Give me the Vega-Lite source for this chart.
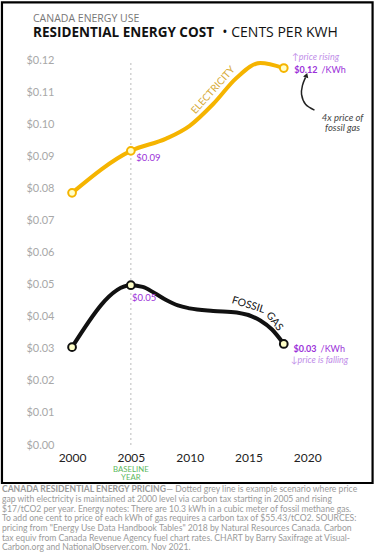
{
  "$schema": "https://vega.github.io/schema/vega-lite/v6.json",
  "width": 247,
  "height": 401,
  "autosize": {"type": "none"},
  "padding": {"left": 65, "top": 44, "right": 63, "bottom": 108},
  "background": "white",
  "config": {"view": {"stroke": null}, "font": "Lato"},
  "data": {"values": [{}]},
  "datasets": {
    "prices": [
      {"series": "Electricity", "year": 2000, "price": 0.0786},
      {"series": "Electricity", "year": 2005, "price": 0.0917},
      {"series": "Electricity", "year": 2008, "price": 0.0955},
      {"series": "Electricity", "year": 2010, "price": 0.0995},
      {"series": "Electricity", "year": 2012, "price": 0.1063},
      {"series": "Electricity", "year": 2014, "price": 0.1145},
      {"series": "Electricity", "year": 2016, "price": 0.1191},
      {"series": "Electricity", "year": 2018, "price": 0.1175},
      {"series": "Fossil gas", "year": 2000, "price": 0.0305},
      {"series": "Fossil gas", "year": 2005, "price": 0.0498},
      {"series": "Fossil gas", "year": 2006, "price": 0.0493},
      {"series": "Fossil gas", "year": 2007, "price": 0.0474},
      {"series": "Fossil gas", "year": 2008, "price": 0.0452},
      {"series": "Fossil gas", "year": 2009, "price": 0.0435},
      {"series": "Fossil gas", "year": 2010, "price": 0.0426},
      {"series": "Fossil gas", "year": 2012, "price": 0.0418},
      {"series": "Fossil gas", "year": 2014, "price": 0.0413},
      {"series": "Fossil gas", "year": 2016, "price": 0.0388},
      {"series": "Fossil gas", "year": 2017, "price": 0.0360},
      {"series": "Fossil gas", "year": 2018, "price": 0.0315}
    ],
    "arrow": [
      {"step": 1, "year": 2020.61, "price": 0.1044},
      {"step": 2, "year": 2019.85, "price": 0.1062},
      {"step": 3, "year": 2019.51, "price": 0.1093},
      {"step": 4, "year": 2019.59, "price": 0.1121},
      {"step": 5, "year": 2019.85, "price": 0.1146}
    ]
  },
  "encoding": {
    "x": {
      "type": "quantitative",
      "scale": {"domain": [1999.4, 2020.4], "nice": false, "zero": false},
      "axis": {
        "title": null,
        "values": [2000, 2005, 2010, 2015, 2020],
        "format": "d",
        "grid": false,
        "ticks": false,
        "domain": false,
        "labelFont": "Lato",
        "labelFontSize": 12,
        "labelColor": "#222222",
        "labelPadding": 7
      }
    },
    "y": {
      "type": "quantitative",
      "scale": {"domain": [0, 0.125], "nice": false, "zero": true},
      "axis": {
        "title": null,
        "values": [0, 0.01, 0.02, 0.03, 0.04, 0.05, 0.06, 0.07, 0.08, 0.09, 0.1, 0.11, 0.12],
        "format": "$.2f",
        "ticks": false,
        "domain": false,
        "gridColor": "#e6e6e6",
        "labelFont": "Lato",
        "labelFontSize": 11,
        "labelColor": "#a8a8a8",
        "labelPadding": 11
      }
    }
  },
  "layer": [
    {
      "mark": {"type": "rect", "fill": null, "stroke": "#000000", "strokeWidth": 2.2},
      "encoding": {
        "x": {"datum": 1994.04},
        "x2": {"datum": 2025.55},
        "y": {"datum": 0.1380},
        "y2": {"datum": -0.01184}
      }
    },
    {
      "mark": {"type": "rule", "color": "#bbbbbb", "strokeWidth": 1, "strokeDash": [2, 3]},
      "encoding": {
        "x": {"datum": 2005},
        "y": {"datum": 0},
        "y2": {"datum": 0.12}
      }
    },
    {
      "data": {"name": "prices"},
      "mark": {"type": "line", "interpolate": "monotone", "strokeWidth": 4, "strokeCap": "round"},
      "encoding": {
        "x": {"field": "year"},
        "y": {"field": "price"},
        "color": {
          "field": "series",
          "type": "nominal",
          "scale": {"domain": ["Electricity", "Fossil gas"], "range": ["#f5b400", "#111111"]},
          "legend": null
        }
      }
    },
    {
      "data": {"name": "prices"},
      "transform": [{"filter": {"field": "year", "oneOf": [2000, 2005, 2018]}}],
      "mark": {"type": "circle", "fill": "#ffffc8", "fillOpacity": 1, "strokeWidth": 2, "size": 60},
      "encoding": {
        "x": {"field": "year"},
        "y": {"field": "price"},
        "stroke": {
          "field": "series",
          "type": "nominal",
          "scale": {"domain": ["Electricity", "Fossil gas"], "range": ["#f5b400", "#111111"]},
          "legend": null
        }
      }
    },
    {
      "data": {"name": "arrow"},
      "mark": {"type": "line", "interpolate": "cardinal", "color": "#222222", "strokeWidth": 1.5},
      "encoding": {
        "x": {"field": "year"},
        "y": {"field": "price"},
        "order": {"field": "step", "type": "quantitative"}
      }
    },
    {
      "mark": {"type": "point", "shape": "triangle-up", "filled": true, "color": "#222222", "size": 30, "angle": 20, "opacity": 1},
      "encoding": {"x": {"datum": 2019.93}, "y": {"datum": 0.1153}}
    },
    {
      "mark": {"type": "text", "text": "CANADA ENERGY USE", "align": "left", "baseline": "middle", "font": "Open Sans", "fontSize": 10.5, "color": "#777777"},
      "encoding": {"x": {"datum": 1996.68}, "y": {"datum": 0.1329}}
    },
    {
      "mark": {"type": "text", "text": "RESIDENTIAL ENERGY COST", "align": "left", "baseline": "middle", "font": "Open Sans", "fontSize": 13.5, "fontWeight": "bold", "color": "#111111"},
      "encoding": {"x": {"datum": 1996.68}, "y": {"datum": 0.1283}}
    },
    {
      "mark": {"type": "text", "text": "•  CENTS PER KWH", "align": "left", "baseline": "middle", "font": "Open Sans", "fontSize": 14, "color": "#111111"},
      "encoding": {"x": {"datum": 2012.78}, "y": {"datum": 0.1283}}
    },
    {
      "mark": {"type": "text", "text": "$0.09", "align": "left", "baseline": "middle", "fontSize": 9.5, "color": "#9b30d9"},
      "encoding": {"x": {"datum": 2005.45}, "y": {"datum": 0.0894}}
    },
    {
      "mark": {"type": "text", "text": "$0.05", "align": "left", "baseline": "middle", "fontSize": 9.5, "color": "#9b30d9"},
      "encoding": {"x": {"datum": 2005.1}, "y": {"datum": 0.0458}}
    },
    {
      "mark": {"type": "text", "text": "$0.12", "align": "left", "baseline": "middle", "fontSize": 9, "fontWeight": "bold", "color": "#9b30d9"},
      "encoding": {"x": {"datum": 2018.9}, "y": {"datum": 0.1168}}
    },
    {
      "mark": {"type": "text", "text": "/KWh", "align": "left", "baseline": "middle", "fontSize": 9, "color": "#9b30d9"},
      "encoding": {"x": {"datum": 2021.2}, "y": {"datum": 0.1168}}
    },
    {
      "mark": {"type": "text", "text": "↑price rising", "align": "left", "baseline": "middle", "fontSize": 9, "fontStyle": "italic", "color": "#c08de8"},
      "encoding": {"x": {"datum": 2018.7}, "y": {"datum": 0.1209}}
    },
    {
      "mark": {"type": "text", "text": "$0.03", "align": "left", "baseline": "middle", "fontSize": 9, "fontWeight": "bold", "color": "#9b30d9"},
      "encoding": {"x": {"datum": 2018.83}, "y": {"datum": 0.0299}}
    },
    {
      "mark": {"type": "text", "text": "/KWh", "align": "left", "baseline": "middle", "fontSize": 9, "color": "#9b30d9"},
      "encoding": {"x": {"datum": 2021.13}, "y": {"datum": 0.0299}}
    },
    {
      "mark": {"type": "text", "text": "↓price is falling", "align": "left", "baseline": "middle", "fontSize": 9, "fontStyle": "italic", "color": "#c08de8"},
      "encoding": {"x": {"datum": 2018.6}, "y": {"datum": 0.0265}}
    },
    {
      "mark": {"type": "text", "text": ["4x price of", "fossil gas"], "align": "center", "baseline": "middle", "fontSize": 9.5, "lineHeight": 9.5, "fontStyle": "italic", "color": "#444444"},
      "encoding": {"x": {"datum": 2023.0}, "y": {"datum": 0.1018}}
    },
    {
      "mark": {"type": "text", "text": "ELECTRICITY", "align": "center", "baseline": "middle", "fontSize": 10, "angle": -48, "color": "#d6a935"},
      "encoding": {"x": {"datum": 2012.0}, "y": {"datum": 0.1106}}
    },
    {
      "mark": {"type": "text", "text": "FOSSIL", "align": "center", "baseline": "middle", "fontSize": 10.5, "angle": 17, "color": "#111111"},
      "encoding": {"x": {"datum": 2014.99}, "y": {"datum": 0.0436}}
    },
    {
      "mark": {"type": "text", "text": "GAS", "align": "center", "baseline": "middle", "fontSize": 10.5, "angle": 52, "color": "#111111"},
      "encoding": {"x": {"datum": 2017.2}, "y": {"datum": 0.0385}}
    },
    {
      "mark": {"type": "text", "text": ["BASELINE", "YEAR"], "align": "center", "baseline": "top", "fontSize": 7.8, "lineHeight": 8, "color": "#5cb85c"},
      "encoding": {"x": {"datum": 2005}, "y": {"datum": -0.0067}}
    },
    {
      "mark": {"type": "text", "text": "CANADA RESIDENTIAL ENERGY PRICING", "align": "left", "baseline": "middle", "fontSize": 8.6, "fontWeight": "bold", "color": "#9a9a9a"},
      "encoding": {"x": {"datum": 1994.04}, "y": {"datum": -0.01371}}
    },
    {
      "mark": {"type": "text", "text": " — Dotted grey line is example scenario where price", "align": "left", "baseline": "middle", "fontSize": 8.6, "color": "#9a9a9a"},
      "encoding": {"x": {"datum": 2008.0}, "y": {"datum": -0.01371}}
    },
    {
      "mark": {
        "type": "text",
        "text": [
          "gap with electricity is maintained at 2000 level via carbon tax starting in 2005 and rising",
          "$17/tCO2 per year. Energy notes: There are 10.3 kWh in a cubic meter of fossil methane gas.",
          "To add one cent to price of each kWh of gas requires a carbon tax of $55.43/tCO2. SOURCES:",
          "pricing from \"Energy Use Data Handbook Tables\" 2018 by Natural Resources Canada. Carbon",
          "tax equiv from Canada Revenue Agency fuel chart rates. CHART by Barry Saxifrage at Visual-",
          "Carbon.org and NationalObserver.com. Nov 2021."
        ],
        "align": "left",
        "baseline": "top",
        "fontSize": 8.6,
        "lineHeight": 9.6,
        "color": "#9a9a9a"
      },
      "encoding": {"x": {"datum": 1994.04}, "y": {"datum": -0.01567}}
    }
  ]
}
